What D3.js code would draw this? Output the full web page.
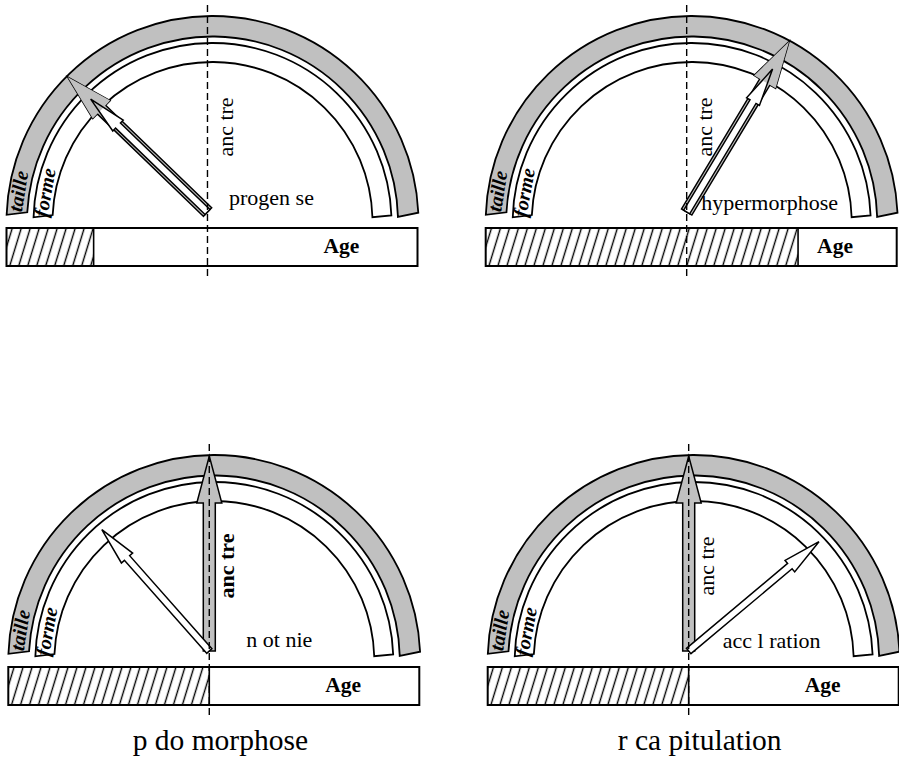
<!DOCTYPE html>
<html>
<head>
<meta charset="utf-8">
<script src="https://cdn.jsdelivr.net/npm/d3@7"></script>
<style>
  body { margin: 0; background: #fff; }
  svg { display: block; }
  text { font-family: "Liberation Serif", "Times New Roman", serif; fill: #000; }
</style>
</head>
<body>
<script>
// --- data ---
var panelNames = ["progen se", "hypermorphose", "n ot nie", "acc l ration"];
var groupTitles = ["", "", "p do morphose", "r ca pitulation"];
var bandLabels = ["taille", "forme"];
// arrow directions, degrees away from the ancestor (vertical), negative = left
var tailleAngles = [-46, 31, 0, 0];
var formeAngles = [-46, 31, -41.5, 50];
// hatched share of the age bar
var ageShares = [0.212, 0.76, 0.489, 0.489];
var ancestorShare = 0.489;
var boldAncestor = [false, false, true, false];
var ageLabel = "Age";
var ancestorLabel = "anc tre";

// --- layout ---
var width = 899, height = 761;
var panelPos = [[207.5, 222], [686.7, 222], [209.3, 661], [688.7, 661]];
var labelOffsets = [[64, -17], [83, -12], [70, -14], [83, -13]];
var ringCx = 5;
var bands = [
    { r0: 185.5, r1: 206, fill: "#c0c0c0", ends: { lo: 2, li: 3, ro: 2.6, ri: 1.6 } },
    { r0: 160, r1: 179, fill: "#fff", ends: { lo: 1.5, li: 2.5, ro: 2.1, ri: 1.7 } }
];
var arrowOrigin = [0, -10];
var tailleArrow = { r: 205, shaft: 12, head: 25, headLen: 47, fill: "#c0c0c0" };
var formeArrow = { r: 173, shaft: 7, head: 15, headLen: 38, fill: "#fff" };

var ageScale = d3.scaleLinear().domain([0, 1]).range([-201, 210]);
var angleScale = d3.scaleLinear().domain([-90, 90]).range([-Math.PI, 0]);

var svg = d3.select("body").append("svg")
    .attr("width", width)
    .attr("height", height);

svg.append("rect").attr("width", width).attr("height", height).attr("fill", "#fff");

// hatch pattern for the age bar
var pattern = svg.append("defs").append("pattern")
    .attr("id", "hatch")
    .attr("patternUnits", "userSpaceOnUse")
    .attr("width", 8.6)
    .attr("height", 40)
    .attr("patternTransform", "rotate(17)");
pattern.append("line")
    .attr("x1", 4.3).attr("x2", 4.3)
    .attr("y1", 0).attr("y2", 40)
    .attr("stroke", "#000")
    .attr("stroke-width", 1.4);

function bandPath(b) {
    var rad = Math.PI / 180, p = d3.path();
    var aLo = Math.PI + b.ends.lo * rad, aRo = 2 * Math.PI - b.ends.ro * rad;
    var aLi = Math.PI + b.ends.li * rad, aRi = 2 * Math.PI - b.ends.ri * rad;
    p.moveTo(ringCx + b.r1 * Math.cos(aLo), b.r1 * Math.sin(aLo));
    p.arc(ringCx, 0, b.r1, aLo, aRo, false);
    p.lineTo(ringCx + b.r0 * Math.cos(aRi), b.r0 * Math.sin(aRi));
    p.arc(ringCx, 0, b.r0, aRi, aLi, true);
    p.closePath();
    return p.toString();
}

// length from the origin to the ring of radius r in direction a
function reach(a, r) {
    var px = arrowOrigin[0] - ringCx, py = arrowOrigin[1];
    var dx = Math.cos(a), dy = Math.sin(a);
    var pd = px * dx + py * dy;
    return -pd + Math.sqrt(pd * pd - (px * px + py * py) + r * r);
}

var line = d3.line();

function arrowShape(deg, spec) {
    var a = angleScale(deg);
    var len = reach(a, spec.r);
    var s = spec.shaft / 2, h = spec.head / 2, b = len - spec.headLen;
    return {
        body: [[0, -s], [b, -s], [b, -h], [len, 0], [b, h], [b, s], [0, s]],
        head: [[b, -h], [len, 0], [b, h]],
        transform: "translate(" + arrowOrigin[0] + "," + arrowOrigin[1] + ") rotate(" + (a * 180 / Math.PI) + ")"
    };
}

function drawPoly(g, pts, tr, fill, stroke) {
    return g.append("path")
        .attr("d", line(pts) + "Z")
        .attr("transform", tr)
        .attr("fill", fill)
        .attr("stroke", stroke)
        .attr("stroke-width", 1.5)
        .attr("stroke-linejoin", "miter");
}

panelNames.forEach(function (name, i) {
    var g = svg.append("g")
        .attr("transform", "translate(" + panelPos[i][0] + "," + panelPos[i][1] + ")");

    // rings
    bands.forEach(function (b, j) {
        g.append("path")
            .attr("d", bandPath(b))
            .attr("fill", b.fill)
            .attr("stroke", "#000")
            .attr("stroke-width", 1.8);

        var rm = (b.r0 + b.r1) / 2, tilt = j === 0 ? 9 : 10;
        var ta = Math.PI + tilt * Math.PI / 180;
        g.append("text")
            .attr("transform", "translate(" + (ringCx + rm * Math.cos(ta)) + "," + (rm * Math.sin(ta)) + ") rotate(" + (-90 + tilt) + ")")
            .attr("text-anchor", "middle")
            .attr("dy", "0.3em")
            .attr("font-size", 20)
            .attr("font-weight", "bold")
            .attr("font-style", "italic")
            .text(bandLabels[j]);
    });

    // age bar
    var y0 = 6, y1 = 44;
    g.append("rect")
        .attr("x", ageScale(0))
        .attr("y", y0)
        .attr("width", ageScale(ageShares[i]) - ageScale(0))
        .attr("height", y1 - y0)
        .attr("fill", "url(#hatch)");
    g.append("line")
        .attr("x1", ageScale(ageShares[i])).attr("x2", ageScale(ageShares[i]))
        .attr("y1", y0).attr("y2", y1)
        .attr("stroke", "#000")
        .attr("stroke-width", 1.6);
    g.append("rect")
        .attr("x", ageScale(0))
        .attr("y", y0)
        .attr("width", ageScale(1) - ageScale(0))
        .attr("height", y1 - y0)
        .attr("fill", "none")
        .attr("stroke", "#000")
        .attr("stroke-width", 2);
    g.append("text")
        .attr("x", ageScale(Math.max(0.815, ageShares[i] + 0.09)))
        .attr("y", 31)
        .attr("text-anchor", "middle")
        .attr("font-size", 21.5)
        .attr("font-weight", "bold")
        .text(ageLabel);

    // arrows: size (taille, grey) under shape (forme, white)
    var big = arrowShape(tailleAngles[i], tailleArrow);
    var small = arrowShape(formeAngles[i], formeArrow);
    drawPoly(g, big.body, big.transform, tailleArrow.fill, "#000");
    drawPoly(g, small.body, small.transform, formeArrow.fill, "none");
    if (tailleAngles[i] === formeAngles[i]) {
        // where the two heads overlap the grey shows through
        drawPoly(g, big.head, big.transform, tailleArrow.fill, "none");
    }
    drawPoly(g, small.body, small.transform, "none", "#000");

    // ancestor line
    g.append("line")
        .attr("x1", ageScale(ancestorShare)).attr("x2", ageScale(ancestorShare))
        .attr("y1", -217).attr("y2", 57)
        .attr("stroke", "#000")
        .attr("stroke-width", 1.4)
        .attr("stroke-dasharray", "7,4");

    g.append("text")
        .attr("transform", "translate(25,-95) rotate(-90)")
        .attr("text-anchor", "middle")
        .attr("font-size", 22)
        .attr("font-weight", boldAncestor[i] ? "bold" : "normal")
        .text(ancestorLabel);

    g.append("text")
        .attr("x", labelOffsets[i][0])
        .attr("y", labelOffsets[i][1])
        .attr("text-anchor", "middle")
        .attr("font-size", 22)
        .text(name);

    if (groupTitles[i]) {
        g.append("text")
            .attr("x", 11)
            .attr("y", 89)
            .attr("text-anchor", "middle")
            .attr("font-size", 29.5)
            .text(groupTitles[i]);
    }
});
</script>
</body>
</html>
